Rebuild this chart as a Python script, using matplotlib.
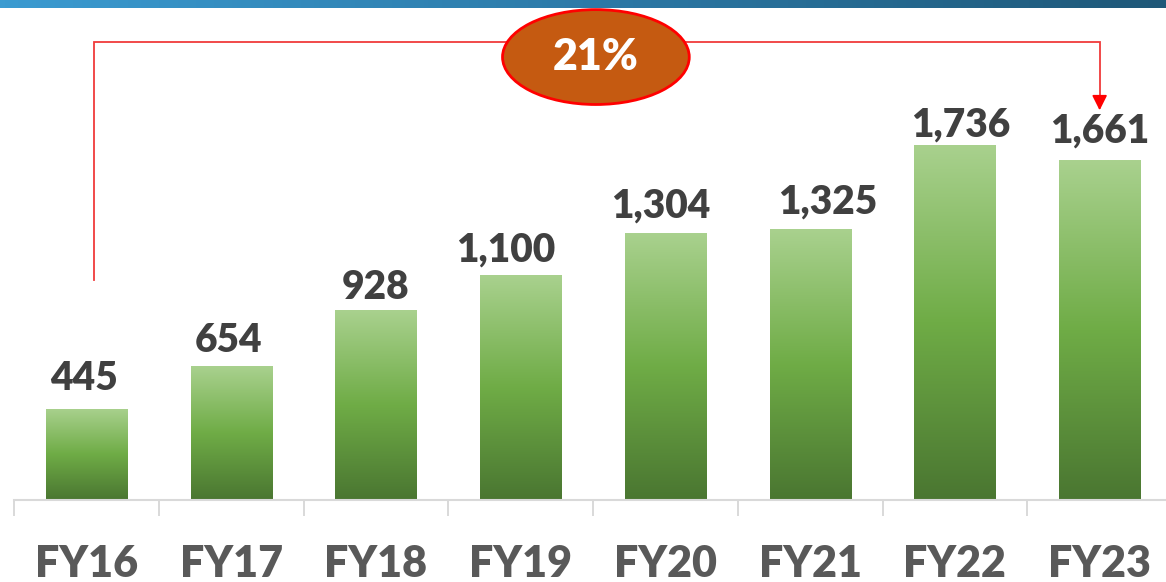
import numpy as np
import matplotlib
matplotlib.use("Agg")
import matplotlib.pyplot as plt
from matplotlib.patches import Ellipse, Rectangle
from matplotlib.colors import LinearSegmentedColormap

years = ["FY16", "FY17", "FY18", "FY19", "FY20", "FY21", "FY22", "FY23"]
values = [445, 654, 928, 1100, 1304, 1325, 1736, 1661]
growth_label = "21%"

# hand-nudged label offsets (points) above each bar
label_dx = [-2, -2, 0, -11, -3, 13, 4, 0]
label_dy = [14, 10, 8, 10, 11.5, 11, 6, 13]

plt.rcParams["font.family"] = ["Lato", "DejaVu Sans"]

fig = plt.figure(figsize=(11.66, 5.82), dpi=100)
fig.patch.set_facecolor("white")

ax = fig.add_axes([14 / 1166, 82 / 582, 1158 / 1166, 500 / 582])
ax.set_facecolor("none")

# blue band across the top
band = fig.add_axes([0, 1 - 8 / 582, 1, 8 / 582], zorder=10)
band.imshow(np.linspace(0, 1, 256).reshape(1, -1), aspect="auto",
            cmap=LinearSegmentedColormap.from_list("hdr", ["#3b9bd1", "#2c7aa8", "#1f5878"]))
band.axis("off")

green = LinearSegmentedColormap.from_list("bar", ["#4a7631", "#6fac46", "#a9d18e"])
grad = np.linspace(0, 1, 256).reshape(-1, 1)
w = 0.56
x = np.arange(len(years))
for xi, v, dx, dy in zip(x, values, label_dx, label_dy):
    im = ax.imshow(grad, extent=[xi - w / 2, xi + w / 2, 0, v], origin="lower",
                   cmap=green, aspect="auto", zorder=2)
    im.set_clip_path(Rectangle((xi - w / 2, 0), w, v, transform=ax.transData))
    ax.annotate(f"{v:,}", (xi, v), xytext=(dx, dy), textcoords="offset points",
                ha="center", va="baseline", fontsize=28, fontweight="heavy",
                color="#404040")

ax.set_xlim(-0.5, len(years) - 0.5)
ax.set_ylim(0, 2445)

for s in ["top", "right", "left"]:
    ax.spines[s].set_visible(False)
ax.spines["bottom"].set_color("#d9d9d9")
ax.spines["bottom"].set_linewidth(1.5)
ax.set_yticks([])
ax.set_xticks(x)
ax.set_xticklabels(years, fontsize=31, fontweight="heavy", color="#595959")
ax.tick_params(axis="x", which="major", length=0, pad=32)
ax.set_xticks(np.arange(-0.5, len(years)), minor=True)
ax.tick_params(axis="x", which="minor", length=11.5, width=1.4, color="#d9d9d9")

# growth bracket from FY16 to FY23
red = "#f03a3a"
y_top = 2240
ax.plot([x[0] + 0.05, x[0] + 0.05, x[-1], x[-1]], [1076, y_top, y_top, 1960],
        color=red, lw=1.3, zorder=3, clip_on=False, solid_joinstyle="miter")
ax.annotate("", xy=(x[-1], 1892), xytext=(x[-1], 1975),
            arrowprops=dict(arrowstyle="-|>,head_length=0.9,head_width=0.45",
                            color="#ff0000", lw=1.3), zorder=4)
ax.add_patch(Ellipse((3.52, 2166), 1.29, 464, facecolor="#c55a11",
                     edgecolor="#ff0000", lw=2, zorder=5, clip_on=False))
ax.text(3.52, 2166, growth_label, ha="center", va="center", fontsize=31,
        fontweight="heavy", color="white", zorder=6)

fig.savefig("out.png", dpi=100)
